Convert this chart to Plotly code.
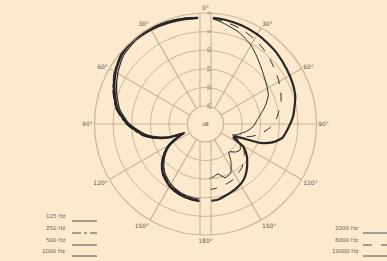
import plotly.graph_objects as go

# ---------------- data (off-axis angle in degrees, level in dB) ----------------
low_angles = [4, 10, 20, 30, 40, 50, 60, 70, 80, 90, 100, 105, 110, 113, 116, 120, 125, 132, 140, 150, 160, 170, 176]
low_names = ["125 Hz", "250 Hz", "500 Hz", "1000 Hz"]
low_125 = [-1.2, -1.0, -0.6, -0.2, 0.0, -0.4, -1.8, -3.6, -5.6, -8.8, -12.8, -15.5, -19.0, -22.5, -21.0, -18.5, -16.5, -14.2, -12.2, -10.6, -9.7, -9.2, -9.1]
low_250 = [-1.1, -0.9, -0.5, -0.1, -0.1, -0.5, -1.6, -3.4, -5.4, -8.6, -12.5, -15.2, -18.8, -23.0, -21.5, -18.8, -16.8, -14.5, -12.4, -10.8, -9.9, -9.4, -9.3]
low_500 = [-1.3, -1.1, -0.7, -0.3, -0.1, -0.6, -2.0, -3.9, -5.9, -9.0, -13.0, -15.8, -19.5, -23.5, -21.8, -18.6, -16.4, -14.0, -12.0, -10.5, -9.6, -9.1, -9.0]
low_1000 = [-1.4, -1.3, -1.0, -0.7, -0.6, -1.1, -2.6, -4.4, -6.4, -9.4, -13.6, -16.4, -20.0, -23.8, -22.0, -19.2, -17.0, -14.8, -12.8, -11.2, -10.2, -9.7, -9.6]

high_angles = [4, 10, 20, 30, 37, 45, 56, 65, 73, 85, 93, 100, 105, 109, 112, 116, 121, 127, 133, 140, 146, 153, 160, 166, 171, 176]
high_names = ["2000 Hz", "6000 Hz", "10000 Hz"]
high_2000 = [-1.2, -1.3, -1.6, -2.0, -2.4, -2.8, -3.5, -4.0, -4.6, -6.2, -7.6, -8.8, -11.0, -14.2, -20.4, -21.5, -18.0, -16.0, -14.5, -12.8, -11.6, -10.8, -10.2, -9.7, -9.2, -9.1]
high_6000 = [-1.4, -1.8, -2.5, -3.5, -4.3, -5.3, -6.6, -7.6, -8.6, -10.6, -12.4, -14.8, -17.0, -19.5, -21.5, -20.0, -18.0, -16.8, -15.8, -14.6, -14.0, -13.2, -12.8, -12.6, -12.3, -12.2]
high_10000 = [-1.5, -2.3, -3.6, -5.4, -7.0, -8.6, -10.2, -11.2, -13.0, -15.8, -17.0, -18.6, -20.0, -21.0, -22.0, -20.5, -19.0, -18.2, -18.8, -20.0, -17.6, -15.0, -14.5, -16.0, -15.5, -15.2]

ring_values = [-25, -20, -15, -10, -5, 0]
ring_labels = ["25", "20", "15", "10", "5", "0"]
angle_ticks = [0, 30, 60, 90, 120, 150, 180, 210, 240, 270, 300, 330]
angle_labels = ["0°", "30°", "60°", "90°", "120°", "150°", "180°", "150°", "120°", "90°", "60°", "30°"]
spoke_angles = [30, 60, 90, 120, 150, 210, 240, 270, 300, 330]

# ---------------- style ----------------
BG = "#FDEACE"
GRID = "#C8B698"
INK = "#262626"
TXT = "#5E574F"
W, H = 387, 261
CX, CY, R, HOLE = 205.5, 124, 111, 18

fig = go.Figure()

# spokes (0° / 180° left out: the vertical scale strip sits there)
for a in spoke_angles:
    fig.add_trace(go.Scatterpolar(r=[ring_values[0], ring_values[-1]], theta=[a, a], mode="lines",
                                  line=dict(color=GRID, width=1.2), showlegend=False, hoverinfo="skip"))

low_series = [low_125, low_250, low_500, low_1000]
low_dash = ["solid", "dashdot", "solid", "solid"]
low_width = [2.0, 1.4, 1.8, 1.2]
for name, vals, d, w in zip(low_names, low_series, low_dash, low_width):
    fig.add_trace(go.Scatterpolar(r=vals, theta=[360 - a for a in low_angles], mode="lines", name=name,
                                  line=dict(color=INK, width=w, dash=d, shape="spline", smoothing=0.6),
                                  showlegend=False))

high_series = [high_2000, high_6000, high_10000]
high_dash = ["solid", "dash", "solid"]
high_width = [2.2, 1.0, 1.0]
for name, vals, d, w in zip(high_names, high_series, high_dash, high_width):
    fig.add_trace(go.Scatterpolar(r=vals, theta=high_angles, mode="lines", name=name,
                                  line=dict(color=INK, width=w, dash=d, shape="spline", smoothing=0.6),
                                  showlegend=False))

fig.update_layout(
    width=W, height=H,
    margin=dict(l=0, r=0, t=0, b=0),
    paper_bgcolor=BG, plot_bgcolor=BG,
    showlegend=False,
    polar=dict(
        bgcolor=BG,
        domain=dict(x=[(CX - R) / W, (CX + R) / W], y=[(H - CY - R) / H, (H - CY + R) / H]),
        hole=HOLE / R,
        radialaxis=dict(range=[ring_values[0], ring_values[-1]], tickvals=ring_values, ticktext=ring_labels,
                        angle=90, tickangle=0, showline=False, ticks="", gridcolor=GRID, gridwidth=1.2,
                        tickfont=dict(size=5, color=TXT, family="DejaVu Sans")),
        angularaxis=dict(rotation=90, direction="clockwise", tickmode="array", tickvals=angle_ticks,
                         ticktext=angle_labels, showgrid=False, showline=True, linecolor=GRID, linewidth=1.2,
                         ticks="", tickfont=dict(size=6, color=TXT, family="DejaVu Sans")),
    ),
)

# vertical scale strip borders
hole_off = (HOLE ** 2 - 5.5 ** 2) ** 0.5
for xs in [CX - 5.5, CX + 5.5]:
    for y0, y1 in [(CY - R, CY - hole_off), (CY + hole_off, CY + R)]:
        fig.add_shape(type="line", xref="paper", yref="paper", x0=xs / W, x1=xs / W,
                      y0=1 - y0 / H, y1=1 - y1 / H, line=dict(color=GRID, width=1.2), layer="above")

fig.add_annotation(x=CX / W, y=1 - CY / H, xref="paper", yref="paper", text="dB", showarrow=False,
                   font=dict(size=5, color=TXT, family="DejaVu Sans"))

# legends: text then line sample
left_rows = [221, 233, 245, 256]
for name, d, yy in zip(low_names, low_dash, left_rows):
    fig.add_annotation(x=67 / W, y=1 - yy / H, xref="paper", yref="paper", text=name, showarrow=False,
                       xanchor="right", font=dict(size=5.5, color=TXT, family="DejaVu Sans"))
    fig.add_shape(type="line", xref="paper", yref="paper", x0=72 / W, x1=97 / W, y0=1 - yy / H, y1=1 - yy / H,
                  line=dict(color="#55504A", width=1, dash=d))
right_rows = [233, 245, 256]
for name, d, yy in zip(high_names, high_dash, right_rows):
    fig.add_annotation(x=360 / W, y=1 - yy / H, xref="paper", yref="paper", text=name, showarrow=False,
                       xanchor="right", font=dict(size=5.5, color=TXT, family="DejaVu Sans"))
    fig.add_shape(type="line", xref="paper", yref="paper", x0=363 / W, x1=1.0, y0=1 - yy / H, y1=1 - yy / H,
                  line=dict(color="#55504A", width=1, dash=d))

fig.write_html("out.html", config={"displayModeBar": False},
               post_script="document.body.style.margin='0';document.body.style.background='" + BG + "';")
